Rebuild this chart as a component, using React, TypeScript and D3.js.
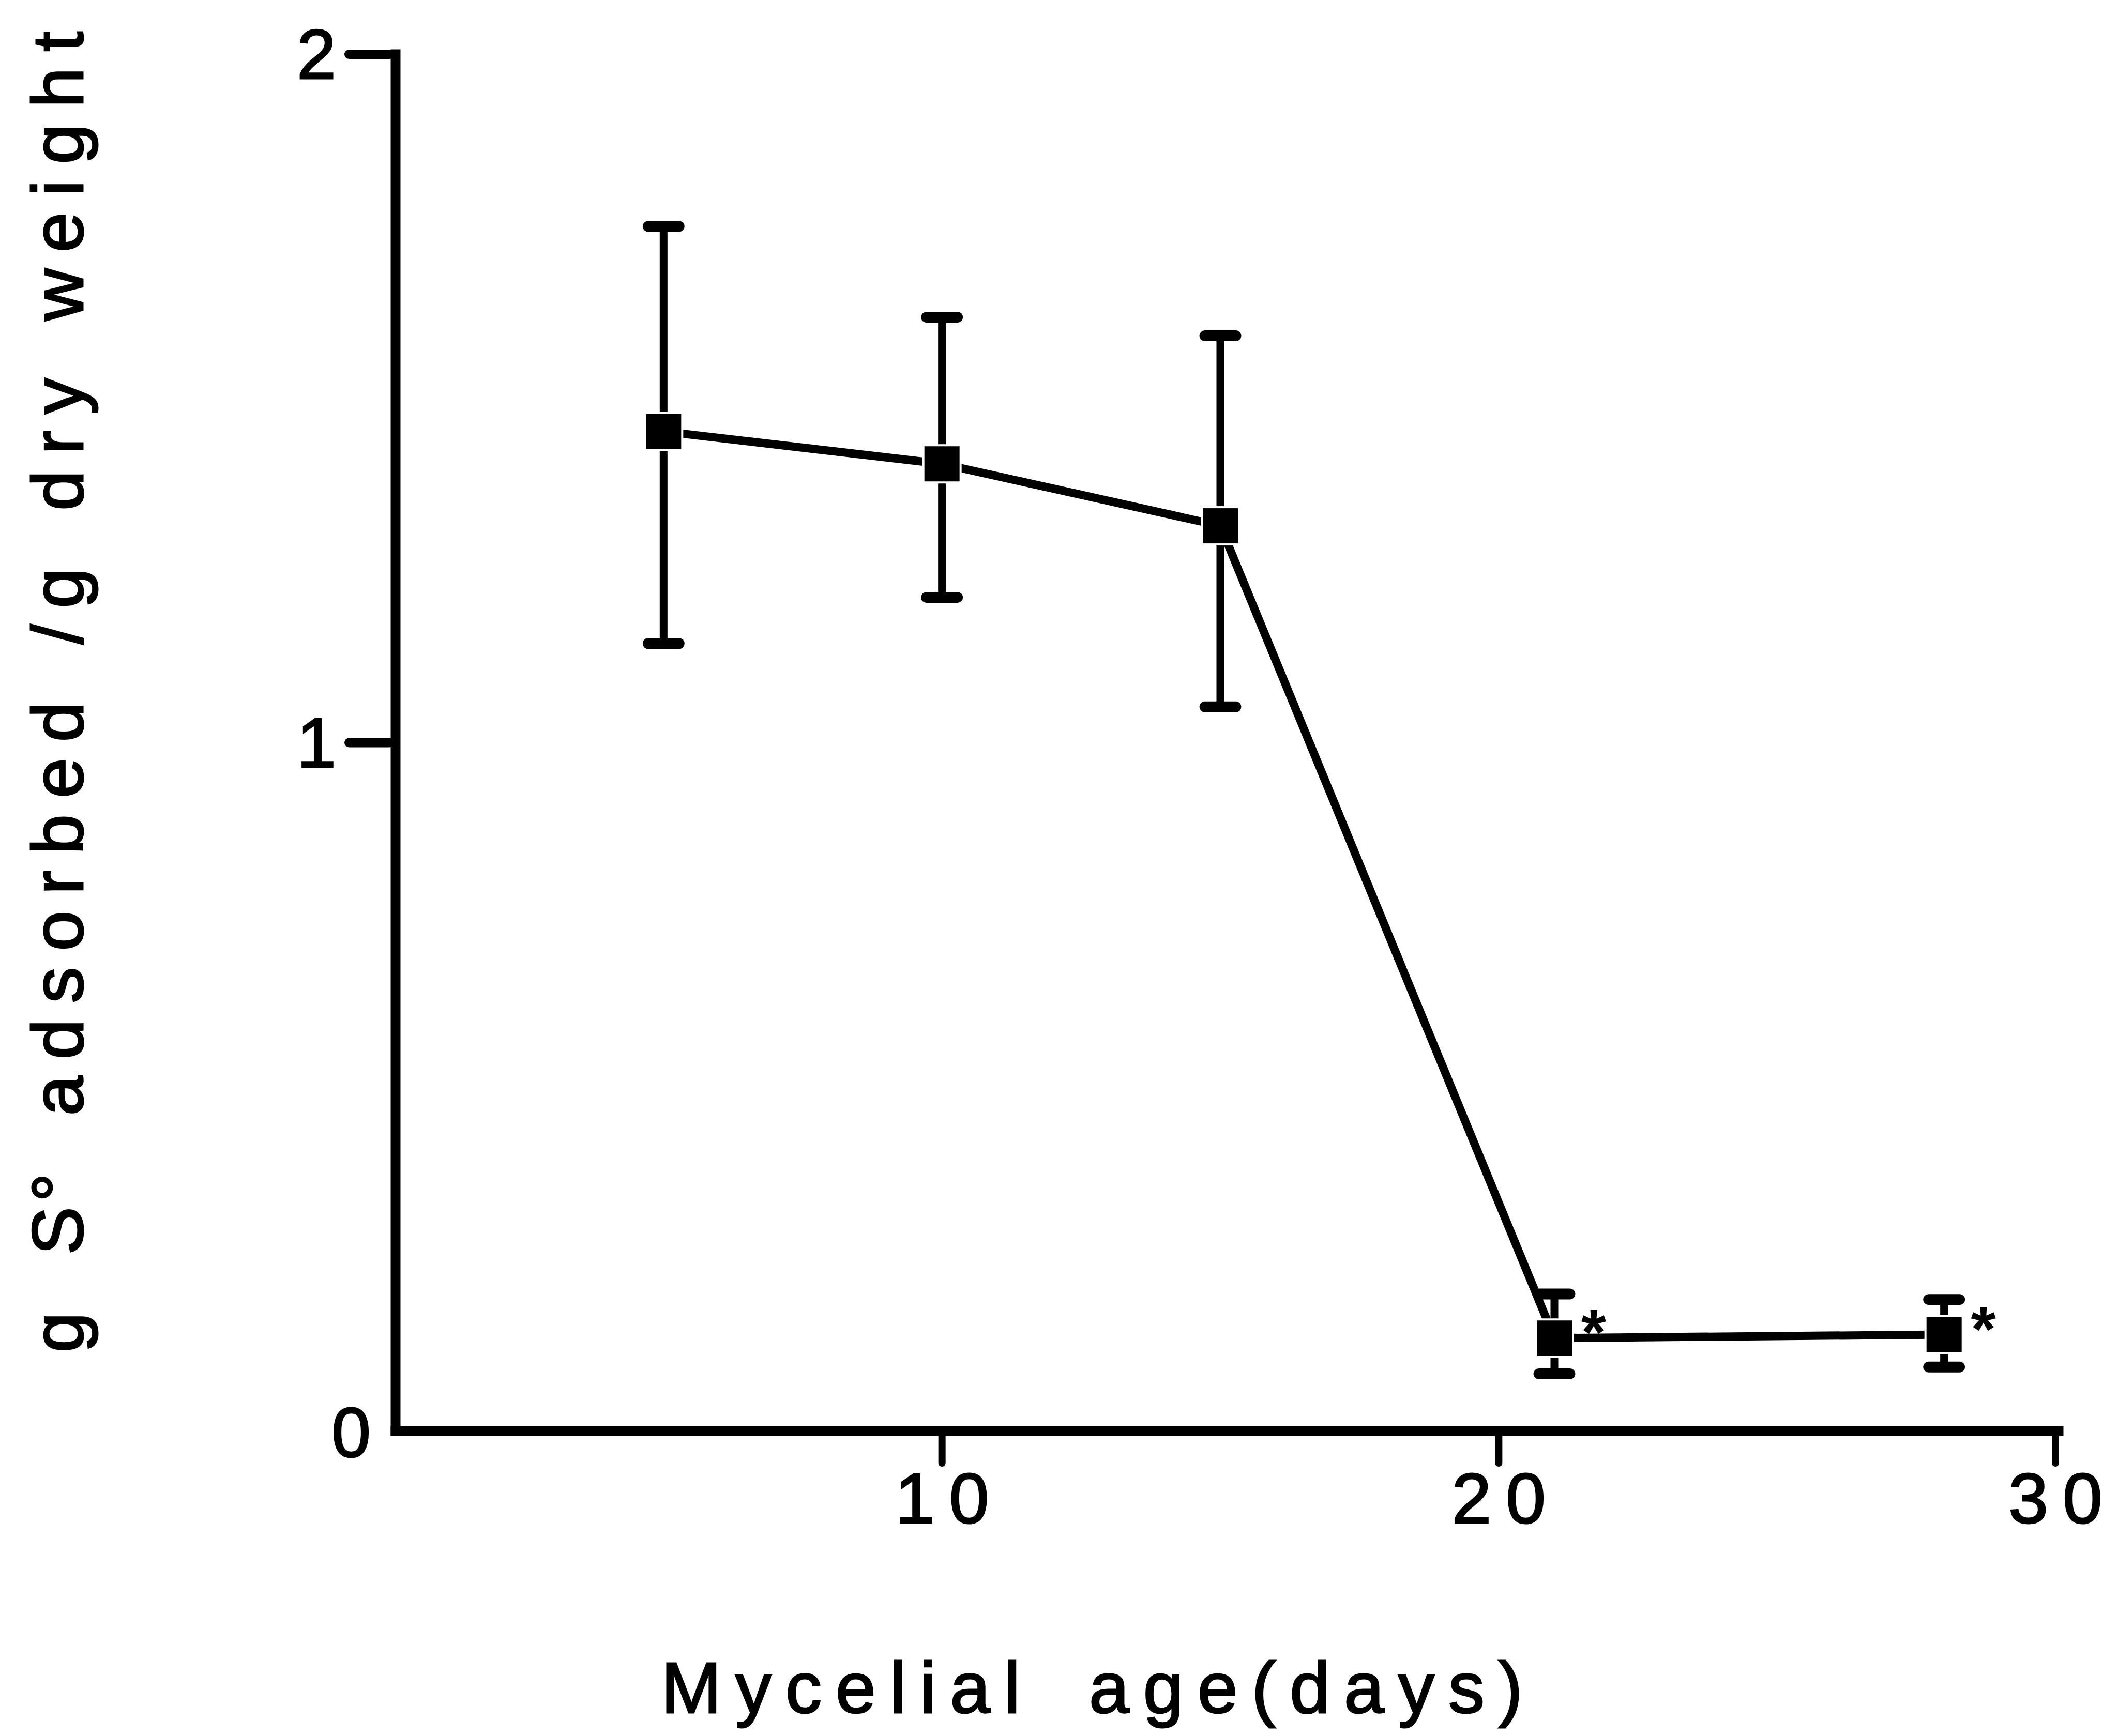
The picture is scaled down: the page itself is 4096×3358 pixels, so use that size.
import * as d3 from 'd3';

const W = 4096;
const H = 3358;

// mycelial age (days) and g S° adsorbed / g dry weight
const days = [5, 10, 15, 21, 28];
const meanAdsorbed = [1.452, 1.405, 1.315, 0.135, 0.14];
const upperBar = [1.75, 1.618, 1.591, 0.199, 0.191];
const lowerBar = [1.144, 1.211, 1.052, 0.083, 0.093];
const significant = [false, false, false, true, true];

const xTicks = [10, 20, 30];
const yTicks = [0, 1, 2];

const xTitle = 'Mycelial age(days)';

const FONT = "'Liberation Sans', Arial, Helvetica, sans-serif";

export default function App() {
  const x = d3.scaleLinear().domain([0, 30]).range([745, 3975]);
  const y = d3.scaleLinear().domain([0, 2]).range([2768, 105]);
  const axisX = x(0) + 20;
  const y0 = y(0);

  const line = d3
    .line<number>()
    .x((_, i) => x(days[i]))
    .y((d) => y(d));

  const sq = 72;
  const capW = 60;

  // scanned type is a bit heavier than the regular face
  const ink = { fill: '#000', stroke: '#000', strokeWidth: 3 };

  return (
    <svg
      width={W}
      height={H}
      style={{ position: 'absolute', left: 0, top: 0, display: 'block' }}
    >
      <rect width={W} height={H} fill="#fff" />

      {/* axes */}
      <g stroke="#000" strokeWidth={19} strokeLinecap="square" fill="none">
        <line x1={axisX} x2={axisX} y1={y(2)} y2={y0} />
        <line x1={axisX} x2={x(30) + 6} y1={y0} y2={y0} />
      </g>

      {/* y ticks */}
      {yTicks.map((t) => (
        <g key={'yt' + t}>
          {t !== 0 && (
            <line
              x1={axisX - 90}
              x2={axisX - 12}
              y1={y(t)}
              y2={y(t)}
              stroke="#000"
              strokeWidth={18}
              strokeLinecap="round"
            />
          )}
          <text
            x={t === 0 ? axisX - 48 : axisX - 115}
            y={y(t) + (t === 0 ? 50 : 47)}
            textAnchor="end"
            fontFamily={FONT}
            fontSize={136}
            {...ink}
          >
            {t}
          </text>
        </g>
      ))}

      {/* x ticks */}
      {xTicks.map((t) => (
        <g key={'xt' + t}>
          <line
            x1={x(t)}
            x2={x(t)}
            y1={y0}
            y2={y0 + 62}
            stroke="#000"
            strokeWidth={14}
            strokeLinecap="round"
          />
          <text
            x={x(t) + 14}
            y={y0 + 178}
            textAnchor="middle"
            fontFamily={FONT}
            fontSize={138}
            letterSpacing={28}
            {...ink}
          >
            {t}
          </text>
        </g>
      ))}

      {/* connecting line */}
      <path
        d={line(meanAdsorbed) ?? ''}
        fill="none"
        stroke="#000"
        strokeWidth={16}
        strokeLinejoin="round"
        strokeLinecap="round"
      />

      {/* error bars */}
      {days.map((d, i) => (
        <g key={'eb' + d} stroke="#000" strokeLinecap="round">
          <line x1={x(d)} x2={x(d)} y1={y(upperBar[i])} y2={y(lowerBar[i])} strokeWidth={15} />
          <line
            x1={x(d) - capW / 2}
            x2={x(d) + capW / 2}
            y1={y(upperBar[i])}
            y2={y(upperBar[i])}
            strokeWidth={21}
          />
          <line
            x1={x(d) - capW / 2}
            x2={x(d) + capW / 2}
            y1={y(lowerBar[i])}
            y2={y(lowerBar[i])}
            strokeWidth={21}
          />
        </g>
      ))}

      {/* markers */}
      {days.map((d, i) => (
        <rect
          key={'m' + d}
          x={x(d) - sq / 2}
          y={y(meanAdsorbed[i]) - sq / 2}
          width={sq}
          height={sq}
          fill="#000"
          stroke="#fff"
          strokeWidth={4}
        />
      ))}

      {/* significance marks */}
      {days.map((d, i) =>
        significant[i] ? (
          <text
            key={'s' + d}
            x={x(d) + 76}
            y={y(meanAdsorbed[i]) + 32}
            textAnchor="middle"
            fontFamily={FONT}
            fontSize={124}
            fontWeight="bold"
            fill="#000"
          >
            *
          </text>
        ) : null
      )}

      {/* axis titles */}
      <text
        x={2125}
        y={3313}
        textAnchor="middle"
        fontFamily={FONT}
        fontSize={140}
        letterSpacing={27}
        wordSpacing={40}
        {...ink}
      >
        {xTitle}
      </text>
      <text
        transform="translate(160,1323) rotate(-90)"
        textAnchor="middle"
        fontFamily={FONT}
        fontSize={140}
        letterSpacing={31}
        wordSpacing={10}
        {...ink}
      >
        g S<tspan dx={-22}>°</tspan> adsorbed /g dry weight
      </text>
    </svg>
  );
}
